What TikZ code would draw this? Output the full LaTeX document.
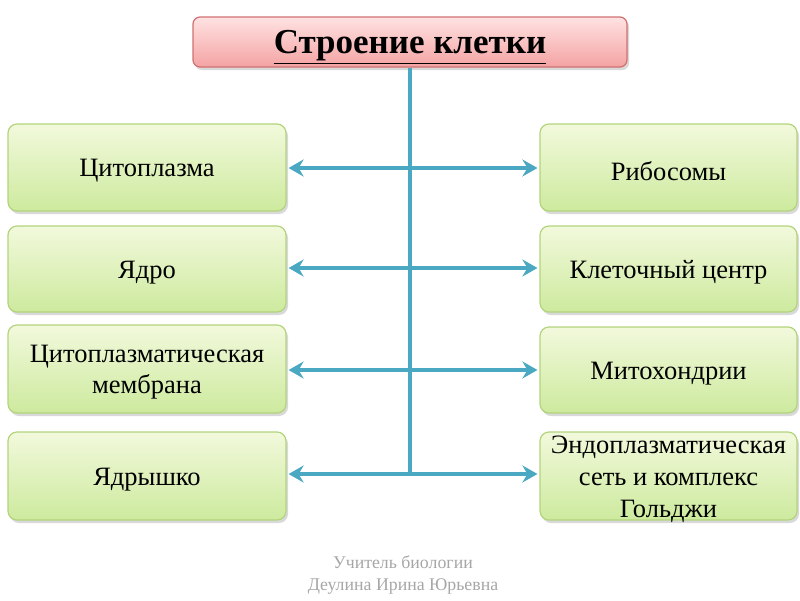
\documentclass[tikz,border=0pt]{standalone}
\usepackage{fontspec}
\setmainfont{Liberation Serif}
\usetikzlibrary{shadows,arrows.meta}
\definecolor{gfill1}{HTML}{F2F9DC}
\definecolor{gfill2}{HTML}{CDEA9E}
\definecolor{gborder}{HTML}{B3D47D}
\definecolor{pfill1}{HTML}{FFE2E2}
\definecolor{pfill2}{HTML}{F4A3A3}
\definecolor{pborder}{HTML}{D07070}
\definecolor{conn}{HTML}{4BA8C2}
\begin{document}
\begin{tikzpicture}[x=1pt,y=-1pt,
  gbox/.style={draw=gborder,line width=1.2pt,rounded corners=9pt,top color=gfill1,bottom color=gfill2,
    drop shadow={shadow xshift=2pt,shadow yshift=-3pt,opacity=0.3},inner sep=0pt},
  gtxt/.style={align=center,font=\fontsize{26.5}{31.5}\selectfont,inner sep=0pt},
  tbox/.style={draw=pborder,line width=1.2pt,rounded corners=7pt,top color=pfill1,bottom color=pfill2,
    drop shadow={shadow xshift=2pt,shadow yshift=-3pt,opacity=0.3},inner sep=0pt},
  ttxt/.style={font=\fontsize{35}{40}\selectfont\bfseries,inner sep=0pt},
  conn/.style={draw=conn,line width=3.2pt},
  arr/.style={conn,{Stealth[length=15pt,width=17pt,inset=5pt]}-{Stealth[length=15pt,width=17pt,inset=5pt]}}]
\useasboundingbox (0,0) rectangle (800,600);
\node[tbox,minimum width=434pt,minimum height=50pt] (title) at (410,42) {};
\node[ttxt] (titlet) at ([yshift=-5pt]title.center) {\underline{Строение клетки}};
\node[gbox,minimum width=278pt,minimum height=87pt] (l1) at (147,167.5) {};
\node[gbox,minimum width=278pt,minimum height=86pt] (l2) at (147,269) {};
\node[gbox,minimum width=278pt,minimum height=88pt] (l3) at (147,369) {};
\node[gbox,minimum width=278pt,minimum height=88pt] (l4) at (147,476) {};
\node[gbox,minimum width=257pt,minimum height=87pt] (r1) at (668.5,167.5) {};
\node[gbox,minimum width=257pt,minimum height=86pt] (r2) at (668.5,269) {};
\node[gbox,minimum width=257pt,minimum height=86pt] (r3) at (668.5,370) {};
\node[gbox,minimum width=257pt,minimum height=88pt] (r4) at (668.5,476) {};
\node[gtxt] (l1t) at ([yshift=-3.5pt]l1.center) {Цитоплазма};
\node[gtxt] (l2t) at ([yshift=-3.5pt]l2.center) {Ядро};
\node[gtxt] (l3t) at ([yshift=-3pt]l3.center) {Цитоплазматическая\\мембрана};
\node[gtxt] (l4t) at ([yshift=-3.5pt]l4.center) {Ядрышко};
\node[gtxt] (r1t) at ([yshift=-3.5pt]r1.center) {Рибосомы};
\node[gtxt] (r2t) at ([yshift=-3.5pt]r2.center) {Клеточный центр};
\node[gtxt] (r3t) at ([yshift=-3.5pt]r3.center) {Митохондрии};
\node[gtxt,font=\fontsize{26.5}{32}\selectfont] (r4t) at ([yshift=-3pt]r4.center) {Эндоплазматическая\\сеть и комплекс\\Гольджи};
\coordinate (bot) at (410,475);
\draw[conn] (title.south -| bot) -- (bot);
\draw[arr] ([xshift=2pt]l1.east |- 0,168) -- ([xshift=-2pt]r1.west |- 0,168);
\draw[arr] ([xshift=2pt]l2.east |- 0,268) -- ([xshift=-2pt]r2.west |- 0,268);
\draw[arr] ([xshift=2pt]l3.east |- 0,370) -- ([xshift=-2pt]r3.west |- 0,370);
\draw[arr] ([xshift=2pt]l4.east |- 0,474) -- ([xshift=-2pt]r4.west |- 0,474);
\node[text=black!35,align=center,font=\fontsize{17.8}{22}\selectfont] (foot) at (403,575) {Учитель биологии\\Деулина Ирина Юрьевна};
\end{tikzpicture}
\end{document}
